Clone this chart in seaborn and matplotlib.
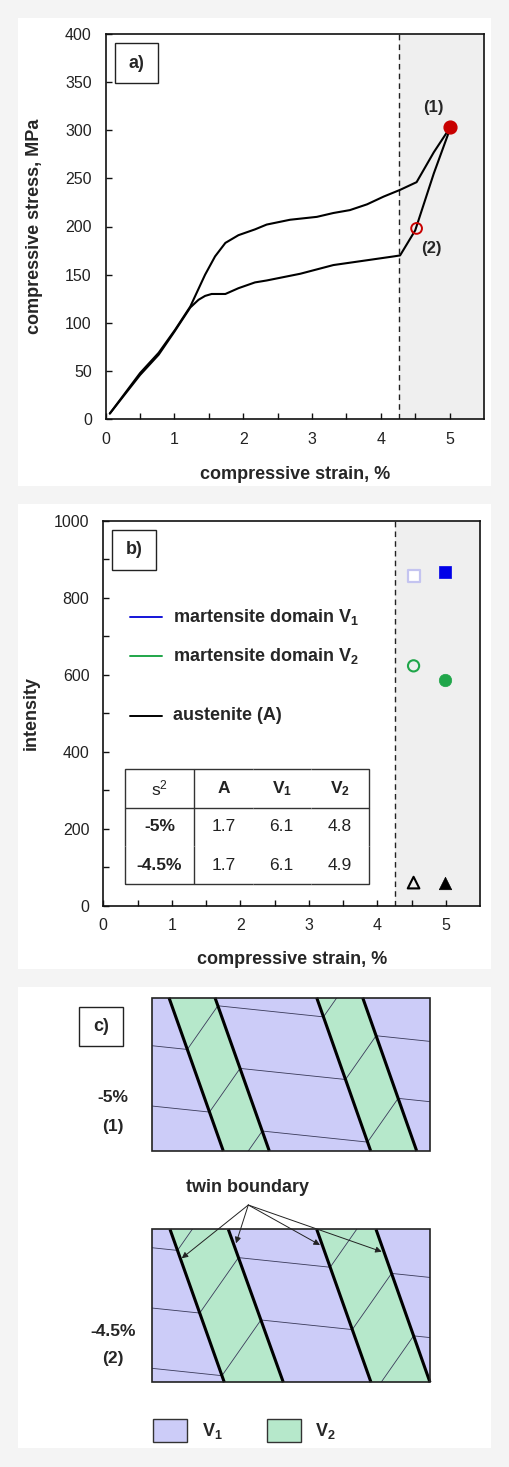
import matplotlib
matplotlib.use("Agg")
import matplotlib.pyplot as plt
import seaborn as sns
from matplotlib.patches import Rectangle, Polygon

# Set styling
sns.set_theme(style="white")
plt.rcParams.update({
    'font.family': ['Liberation Sans', 'DejaVu Sans'],
    'mathtext.fontset': 'custom',
    'mathtext.rm': 'Liberation Sans',
    'mathtext.bf': 'Liberation Sans:bold',
    'mathtext.it': 'Liberation Sans:italic',
    'axes.edgecolor': '#111111',
    'axes.linewidth': 1.2,
})

# ---- data: panel a (stress-strain loop) ----
load_strain = [0.06, 0.5, 0.77, 1.01, 1.23, 1.445, 1.59, 1.74, 1.93, 2.17, 2.34, 2.68,
               3.07, 3.31, 3.55, 3.8, 4.04, 4.28, 4.52, 4.77, 5.01]
load_stress = [6, 48, 69, 93, 117, 150, 169, 183, 191, 197, 202, 207,
               210, 214, 217, 223, 231, 238, 246, 277, 303]
unload_strain = [5.01, 4.77, 4.5, 4.28, 4.19, 3.8, 3.31, 2.83, 2.34, 2.17, 1.93, 1.74,
                 1.54, 1.445, 1.35, 1.23, 1.0, 0.77, 0.5, 0.06]
unload_stress = [302, 255, 196, 170, 169, 165, 160, 151, 144, 142, 136, 130,
                 130, 128, 124, 116, 91, 67, 46, 6]
state_strain = [5.01, 4.52]
state_stress = [303, 198]
state_labels = ['(1)', '(2)']
plateau_end = 4.26

# ---- data: panel b (peak intensities) ----
strain_pair = [4.53, 4.99]          # open = -4.5 %, filled = -5 %
v1_intensity = [857, 866]
v2_intensity = [623, 585]
a_intensity = [60, 58]
legend_labels = [r'martensite domain $\mathbf{V_1}$', r'martensite domain $\mathbf{V_2}$', 'austenite (A)']
legend_levels = [750, 649, 494]
table_header = ['s$^2$', 'A', r'$\mathbf{V_1}$', r'$\mathbf{V_2}$']
table_rows = ['-5%', '-4.5%']
table_values = [[1.7, 6.1, 4.8], [1.7, 6.1, 4.9]]

# ---- schematic panel c (pixel geometry of the two domain sketches) ----
rect_x = (151.7, 430.0)
rect_y_top = (997.7, 1151.0)
rect_y_bot = (1229.3, 1382.3)
# twin boundaries as (x at top edge, x at bottom edge), left to right
bounds_top = [(169.0, 223.3), (215.0, 269.3), (316.7, 370.7), (362.7, 416.7)]
bounds_bot = [(170.0, 224.3), (228.3, 283.3), (316.7, 371.0), (376.0, 430.0)]
lattice_start_top = 1045.7
lattice_start_bot = 1247.7
lattice_step = 60.3
arrow_targets = [(181.7, 1258.3), (236.0, 1243.3), (320.0, 1245.0), (381.7, 1251.7)]

BLUE = '#1414d8'
GREEN = '#20a64a'
RED = '#c80000'
V1_COLOR = '#ccccf8'
V2_COLOR = '#b6e8cb'
SHADE = '#efefef'

W, H = 509, 1467
fig = plt.figure(figsize=(W / 100, H / 100), dpi=100)
fig.set_facecolor('#f4f4f4')


def px_box(x0, y0, x1, y1):
    return [x0 / W, 1 - y1 / H, (x1 - x0) / W, (y1 - y0) / H]


# white panel backgrounds
for y0, y1 in [(18, 486), (504, 969), (987, 1448)]:
    b = px_box(18, y0, 491, y1)
    fig.patches.append(Rectangle((b[0], b[1]), b[2], b[3], transform=fig.transFigure,
                                 facecolor='white', edgecolor='none', zorder=-1))


def style_axes(ax, yticks, yminor, ypad):
    ax.set_xlim(0, 5.5)
    ax.set_xticks([0, 1, 2, 3, 4, 5])
    ax.set_xticks([0.5, 1.5, 2.5, 3.5, 4.5], minor=True)
    ax.set_yticks(yticks)
    if yminor:
        ax.set_yticks(yminor, minor=True)
    ax.tick_params(which='both', direction='in', length=4, width=1, color='#111111',
                   bottom=True, left=True, top=False, right=False)
    ax.tick_params(axis='x', which='major', labelsize=11.5, pad=9, labelcolor='#222222')
    ax.tick_params(axis='y', which='major', labelsize=11.5, pad=ypad, labelcolor='#222222')
    ax.axvspan(plateau_end, 5.5, color=SHADE, zorder=0, lw=0)
    ax.axvline(plateau_end, ls=(0, (4, 3)), lw=1, color='#222222', zorder=1)
    for s in ax.spines.values():
        s.set_visible(True)
        s.set_zorder(6)


def panel_tag(ax, text):
    ax.add_patch(Rectangle((0.024, 0.873), 0.115, 0.103, transform=ax.transAxes,
                           facecolor='white', edgecolor='#222222', lw=1, zorder=7))
    ax.text(0.0815, 0.924, text, transform=ax.transAxes, ha='center', va='center',
            fontsize=13, fontweight='bold', zorder=8)


# ---------------- panel a ----------------
ax_a = fig.add_axes(px_box(105.7, 33.7, 484, 419.3))
style_axes(ax_a, list(range(0, 401, 50)), None, 10)
ax_a.set_ylim(0, 400)
sns.lineplot(x=load_strain, y=load_stress, sort=False, estimator=None, color='black',
             lw=1.5, ax=ax_a, zorder=3)
sns.lineplot(x=unload_strain, y=unload_stress, sort=False, estimator=None, color='black',
             lw=1.5, ax=ax_a, zorder=3)
sns.scatterplot(x=state_strain[:1], y=state_stress[:1], color=RED, edgecolor=RED, s=85,
                linewidth=1, ax=ax_a, zorder=5)
sns.scatterplot(x=state_strain[1:], y=state_stress[1:], color='none', edgecolor=RED, s=60,
                linewidth=1.4, ax=ax_a, zorder=5)
ax_a.text(state_strain[0] - 0.25, state_stress[0] + 20, state_labels[0], ha='center',
          va='center', fontsize=12, fontweight='bold')
ax_a.text(state_strain[1] + 0.22, state_stress[1] - 21, state_labels[1], ha='center',
          va='center', fontsize=12, fontweight='bold')
ax_a.set_xlabel('compressive strain, %', fontsize=13, fontweight='bold')
ax_a.set_ylabel('compressive stress, MPa', fontsize=13, fontweight='bold')
ax_a.xaxis.set_label_coords(0.5, -0.12)
ax_a.yaxis.set_label_coords(-0.165, 0.5)
panel_tag(ax_a, 'a)')

# ---------------- panel b ----------------
ax_b = fig.add_axes(px_box(103.3, 520.7, 480, 905.7))
style_axes(ax_b, [0, 200, 400, 600, 800, 1000], [100, 300, 500, 700, 900], 10)
ax_b.set_ylim(0, 1000)
# open = -4.5 %, filled = -5 %
sns.scatterplot(x=strain_pair[:1], y=v1_intensity[:1], marker='s', color='white',
                edgecolor='#c4c4f0', s=70, linewidth=1.6, ax=ax_b, zorder=5)
sns.scatterplot(x=strain_pair[1:], y=v1_intensity[1:], marker='s', color='#0000e8',
                edgecolor='#0000e8', s=80, linewidth=0.5, ax=ax_b, zorder=5)
sns.scatterplot(x=strain_pair[:1], y=v2_intensity[:1], marker='o', color='none',
                edgecolor=GREEN, s=65, linewidth=1.5, ax=ax_b, zorder=5)
sns.scatterplot(x=strain_pair[1:], y=v2_intensity[1:], marker='o', color=GREEN,
                edgecolor=GREEN, s=80, linewidth=0.5, ax=ax_b, zorder=5)
sns.scatterplot(x=strain_pair[:1], y=a_intensity[:1], marker='^', color='none',
                edgecolor='black', s=70, linewidth=1.5, ax=ax_b, zorder=5)
sns.scatterplot(x=strain_pair[1:], y=a_intensity[1:], marker='^', color='black',
                edgecolor='black', s=80, linewidth=0.5, ax=ax_b, zorder=5)

for lab, lvl, col in zip(legend_labels, legend_levels, [BLUE, GREEN, 'black']):
    ax_b.plot([0.39, 0.86], [lvl, lvl], color=col, lw=1.4)
    ax_b.text(1.02, lvl, lab, ha='left', va='center', fontsize=13, fontweight='bold')

cell_text = [table_header] + [[r] + [f'{v:.1f}' for v in vals]
                              for r, vals in zip(table_rows, table_values)]
tbl = ax_b.table(cellText=cell_text, cellLoc='center',
                 colWidths=[0.2857, 0.238, 0.238, 0.238],
                 bbox=[0.31 / 5.5, 0.056, (3.88 - 0.31) / 5.5, 0.298], zorder=4)
tbl.auto_set_font_size(False)
tbl.set_fontsize(12.5)
nrows, ncols = len(cell_text), len(table_header)
for (r, c), cell in tbl.get_celld().items():
    e = ''
    if r == 0:
        e += 'TB'
    if r == nrows - 1:
        e += 'B'
    if c == 0:
        e += 'LR'
    if c == ncols - 1:
        e += 'R'
    cell.visible_edges = e if e else 'open'
    cell.set_linewidth(1.0)
    cell.set_edgecolor('#333333')
    cell.set_facecolor('white')
    txt = cell.get_text()
    txt.set_color('#222222')
    if (r == 0 and c > 0) or (c == 0 and r > 0):
        txt.set_fontweight('bold')

ax_b.set_xlabel('compressive strain, %', fontsize=13, fontweight='bold')
ax_b.set_ylabel('intensity', fontsize=13, fontweight='bold')
ax_b.xaxis.set_label_coords(0.5, -0.117)
ax_b.yaxis.set_label_coords(-0.17, 0.5)
panel_tag(ax_b, 'b)')

# ---------------- panel c ----------------
ax_c = fig.add_axes(px_box(18, 987, 491, 1448))
ax_c.set_xlim(18, 491)
ax_c.set_ylim(1448, 987)
ax_c.axis('off')

S_FLAT = 0.105     # lattice slope inside V1
S_STEEP = -1.43    # lattice slope inside V2


def trace(x0, x1, y_start, bounds, ytop, ybot):
    xs, ys = [x0], [y_start]
    xc, yc, m = x0, y_start, S_FLAT
    for xt, xb in bounds:
        k = (xb - xt) / (ybot - ytop)
        x = (xt + k * (yc - m * xc - ytop)) / (1 - k * m)
        y = yc + m * (x - xc)
        xs.append(x)
        ys.append(y)
        xc, yc = x, y
        m = S_STEEP if m == S_FLAT else S_FLAT
    xs.append(x1)
    ys.append(yc + m * (x1 - xc))
    return xs, ys


def domain_sketch(ytop, ybot, bounds, lattice_start):
    x0, x1 = rect_x
    base = Rectangle((x0, ytop), x1 - x0, ybot - ytop, facecolor=V1_COLOR,
                     edgecolor='none', zorder=1)
    ax_c.add_patch(base)
    for i in range(0, len(bounds), 2):
        (lt, lb), (rt, rb) = bounds[i], bounds[i + 1]
        ax_c.add_patch(Polygon([(lt, ytop), (rt, ytop), (rb, ybot), (lb, ybot)],
                               closed=True, facecolor=V2_COLOR, edgecolor='none', zorder=2))
    for k in range(-6, 7):
        xs, ys = trace(x0, x1, lattice_start + k * lattice_step, bounds, ytop, ybot)
        ln, = ax_c.plot(xs, ys, color='#3a3a5a', lw=0.6, zorder=3)
        ln.set_clip_path(base)
    for xt, xb in bounds:
        ax_c.plot([xt, xb], [ytop, ybot], color='black', lw=2.2, zorder=4,
                  solid_capstyle='butt')
    ax_c.add_patch(Rectangle((x0, ytop), x1 - x0, ybot - ytop, facecolor='none',
                             edgecolor='#222222', lw=1.2, zorder=5))


domain_sketch(*rect_y_top, bounds_top, lattice_start_top)
domain_sketch(*rect_y_bot, bounds_bot, lattice_start_bot)

ax_c.add_patch(Rectangle((79.3, 1006.7), 43.4, 39.3, facecolor='white',
                         edgecolor='#222222', lw=1, zorder=5))
ax_c.text(101, 1026.3, 'c)', ha='center', va='center', fontsize=13, fontweight='bold',
          zorder=6)
for txt, y in [('-5%', 1098), ('(1)', 1126.7), ('-4.5%', 1331), ('(2)', 1359)]:
    ax_c.text(113.3, y, txt, ha='center', va='center', fontsize=12.5, fontweight='bold')

ax_c.text(248, 1188, 'twin boundary', ha='center', va='center', fontsize=13,
          fontweight='bold')
for tx, ty in arrow_targets:
    ax_c.annotate('', xy=(tx, ty), xytext=(248.3, 1205),
                  arrowprops=dict(arrowstyle='-|>', color='#222222', lw=0.7,
                                  shrinkA=0, shrinkB=0, mutation_scale=9),
                  zorder=6)

for sx, tx, col, lab in [(152.7, 201.7, V1_COLOR, r'$\mathbf{V_1}$'),
                         (266.7, 315.0, V2_COLOR, r'$\mathbf{V_2}$')]:
    ax_c.add_patch(Rectangle((sx, 1419.3), 34.6, 22.4, facecolor=col,
                             edgecolor='#333333', lw=1, zorder=5))
    ax_c.text(tx, 1431, lab, ha='left', va='center', fontsize=13)

fig.savefig('out.png', dpi=100, facecolor=fig.get_facecolor())
